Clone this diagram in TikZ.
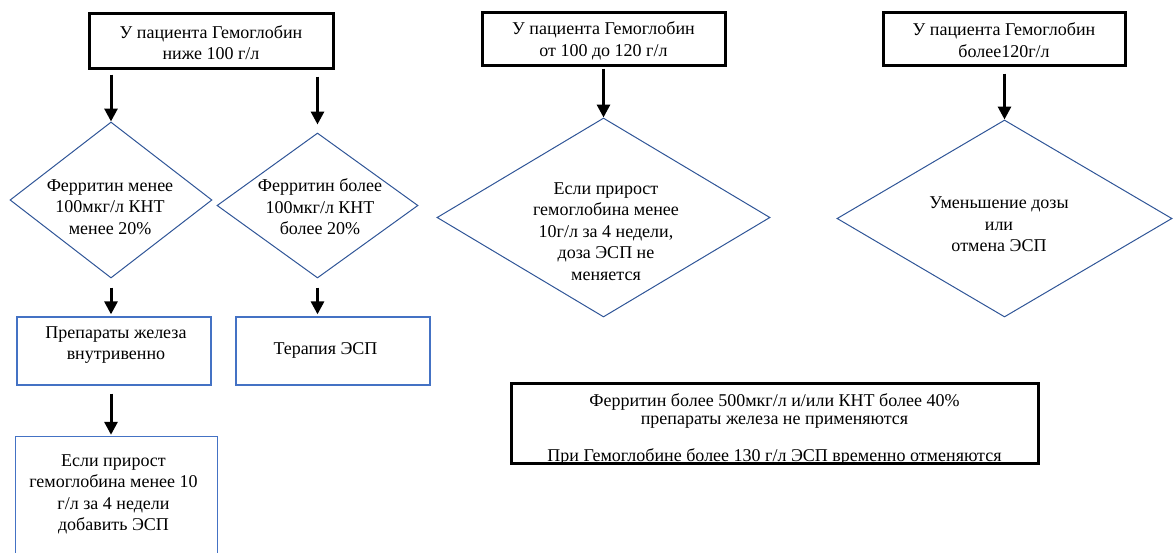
\documentclass[tikz,border=0pt]{standalone}
\usepackage{fontspec}
\setmainfont{Liberation Serif}
\usetikzlibrary{shapes.geometric,arrows.meta}
\definecolor{diablue}{RGB}{47,85,151}
\definecolor{recblue}{RGB}{68,114,196}
\tikzset{
  every node/.style={font=\fontsize{18}{21.5}\selectfont, inner sep=0pt},
  blackbox/.style={draw=black, line width=3pt, rectangle, minimum width=#1},
  bluebox/.style={draw=recblue, line width=1.3pt, rectangle},
  dia/.style={draw=diablue, line width=1pt, diamond},
  txt/.style={align=center},
  arr/.style={line width=3pt, -{Triangle[width=13pt,length=13pt]}},
}
\begin{document}
\begin{tikzpicture}[x=1pt,y=-1pt]
\useasboundingbox (0,0) rectangle (1176,552);

% top boxes
\node[blackbox=244, minimum height=55] (B1) at (211,40.5) {};
\node[txt] (B1t) at (211,42.5) {У пациента Гемоглобин\\ниже 100 г/л};
\node[blackbox=243, minimum height=53] (B2) at (603.5,38.5) {};
\node[txt] (B2t) at (603.5,41) {У пациента Гемоглобин\\от 100 до 120 г/л};
\node[blackbox=242, minimum height=53] (B3) at (1004,38.5) {};
\node[txt] (B3t) at (1004,40) {У пациента Гемоглобин\\более120г/л};

% diamonds
\node[dia, minimum width=202, minimum height=156] (d1) at (111,200) {};
\node[txt] (d1t) at (110,207) {Ферритин менее\\100мкг/л КНТ\\менее 20\%};
\node[dia, minimum width=201, minimum height=145] (d2) at (317.5,205.5) {};
\node[txt] (d2t) at (320,207) {Ферритин более\\100мкг/л КНТ\\более 20\%};
\node[dia, minimum width=333, minimum height=199] (d3) at (603.5,217.5) {};
\node[txt] (d3t) at (606,231.5) {Если прирост\\гемоглобина менее\\10г/л за 4 недели,\\доза ЭСП не\\меняется};
\node[dia, minimum width=335, minimum height=197] (d4) at (1004.5,218.5) {};
\node[txt] (d4t) at (999,224.5) {Уменьшение дозы\\или\\отмена ЭСП};

% blue rectangles
\node[bluebox, minimum width=194, minimum height=68] (R1) at (114,351) {};
\node[txt] (R1t) at (116,345) {Препараты железа\\внутривенно};
\node[bluebox, minimum width=194, minimum height=68] (R2) at (333,351) {};
\node[txt] (R2t) at (325.5,350) {Терапия ЭСП};
\node[minimum width=201, minimum height=126] (R3) at (116.5,500) {};
\draw[recblue, line width=1.3pt] (R3.south west) -- (R3.north west) -- (R3.north east) -- (R3.south east);
\node[txt] (R3t) at (113.5,494.5) {Если прирост\\гемоглобина менее 10\\г/л за 4 недели\\добавить ЭСП};

% bottom note box
\node[blackbox=527, minimum height=80] (B4) at (774.5,423) {};
\node (B4a) at (774.5,402) {Ферритин более 500мкг/л и/или КНТ более 40\%};
\node (B4b) at (774.5,422) {препараты железа не применяются};
\node (B4c) at (774.5,457) {При Гемоглобине более 130 г/л ЭСП временно отменяются};

% arrows
\draw[arr, shorten <=5pt] (B1.south -| d1.north) -- (d1.north);
\draw[arr, shorten <=7pt, shorten >=8pt] (B1.south -| d2.north) -- (d2.north);
\draw[arr, shorten <=9pt, shorten >=2pt] (d1.south) -- (d1.south |- R1.north);
\draw[arr, shorten <=9pt, shorten >=2pt] (d2.south) -- (d2.south |- R2.north);
\draw[arr, shorten <=8pt, shorten >=2pt] (d1.south |- R1.south) -- (d1.south |- R3.north);
\draw[arr, shorten <=2pt] (B2.south -| d3.north) -- (d3.north);
\draw[arr, shorten <=7pt] (B3.south -| d4.north) -- (d4.north);
\end{tikzpicture}
\end{document}
